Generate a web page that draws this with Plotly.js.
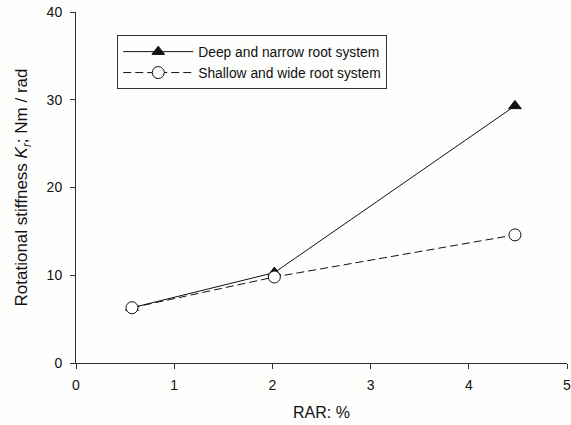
<!DOCTYPE html>
<html>
<head>
<meta charset="utf-8">
<script src="https://cdn.plot.ly/plotly-3.0.1.min.js"></script>
<style>html,body{margin:0;padding:0;background:#fefefd;}#chart{width:571px;height:425px;}</style>
</head>
<body>
<div id="chart"></div>
<script>
const rar = [0.57, 2.02, 4.47];
const deepNarrow = [6.3, 10.3, 29.3];
const shallowWide = [6.3, 9.8, 14.6];
const seriesNames = ["Deep and narrow root system", "Shallow and wide root system"];
const xTicks = [0, 1, 2, 3, 4, 5];
const yTicks = [0, 10, 20, 30, 40];

const traces = [
  {
    x: rar, y: deepNarrow, name: seriesNames[0], type: "scatter", mode: "lines+markers",
    line: {color: "#111", width: 1},
    marker: {symbol: "triangle-up", size: 11, color: "#111", line: {color: "#111", width: 1}}
  },
  {
    x: rar, y: shallowWide, name: seriesNames[1], type: "scatter", mode: "lines+markers",
    line: {color: "#111", width: 1, dash: "8px,4px"},
    marker: {symbol: "circle", size: 12, color: "#fff", line: {color: "#111", width: 1}}
  }
];

const layout = {
  width: 571, height: 425,
  margin: {l: 76, r: 4, t: 12, b: 62},
  paper_bgcolor: "#fefefd", plot_bgcolor: "#fefefd",
  font: {family: "Liberation Sans, Arial, sans-serif", size: 14, color: "#111"},
  showlegend: true,
  legend: {
    x: 0.084, y: 0.934, xanchor: "left", yanchor: "top",
    bordercolor: "#333", borderwidth: 1, bgcolor: "#fefefd",
    font: {size: 13.8}, itemwidth: 70, tracegroupgap: 0
  },
  xaxis: {
    range: [0, 5], tickvals: xTicks, ticktext: xTicks.map(String),
    showline: true, linecolor: "#333", linewidth: 1, mirror: false,
    ticks: "outside", ticklen: 5, tickcolor: "#333", ticklabelstandoff: 4,
    ticklabeloverflow: "allow",
    showgrid: false, zeroline: false,
    tickfont: {size: 14},
    title: {text: "RAR: %", font: {size: 16}, standoff: 15}
  },
  yaxis: {
    range: [0, 40], tickvals: yTicks, ticktext: yTicks.map(String),
    showline: true, linecolor: "#333", linewidth: 1, mirror: false,
    ticks: "outside", ticklen: 5, tickcolor: "#333", ticklabelstandoff: 5,
    ticklabeloverflow: "allow",
    showgrid: false, zeroline: false,
    tickfont: {size: 14},
    title: {text: "Rotational stiffness <i>K<sub>r</sub></i>; Nm / rad", font: {size: 17}, standoff: 14}
  }
};

Plotly.newPlot("chart", traces, layout, {staticPlot: true, displayModeBar: false});
</script>
</body>
</html>
